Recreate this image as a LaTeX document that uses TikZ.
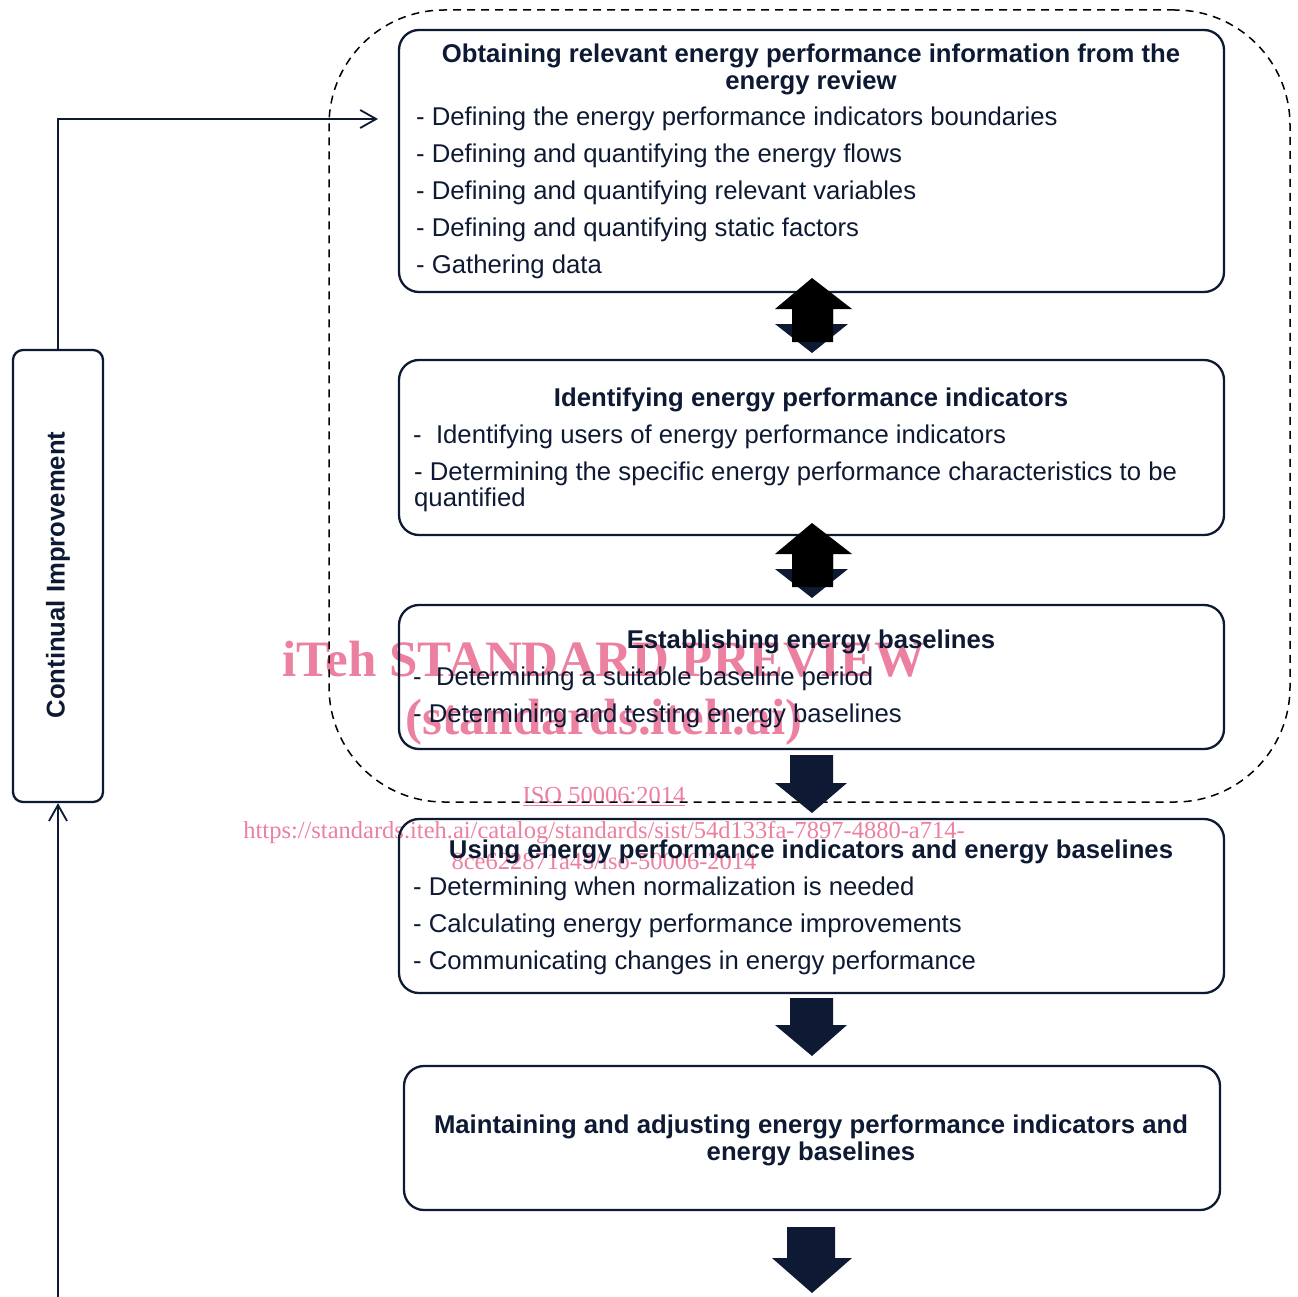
\documentclass[tikz,border=0pt]{standalone}
\usepackage{fontspec}
\setmainfont{Liberation Sans}
\newfontfamily\wmfont{Liberation Serif}
\usetikzlibrary{arrows.meta}
\definecolor{navy}{HTML}{0E1A33}
\definecolor{wmpink}{RGB}{236,128,160}
\begin{document}
\begin{tikzpicture}[x=1pt,y=-1pt,
  box/.style={draw=navy, line width=2.3pt, rounded corners=20pt, inner sep=0pt},
  grp/.style={draw=black, line width=1.5pt, dash pattern=on 8pt off 6pt, rounded corners=115pt, inner sep=0pt},
  body/.style={anchor=base west, inner sep=0pt, text=navy, font=\fontsize{25.7}{30}\selectfont},
  ttl/.style={anchor=base, inner sep=0pt, text=navy, font=\bfseries\fontsize{25.7}{30}\selectfont},
  conn/.style={draw=navy, line width=1.8pt, -{Straight Barb[length=16pt,width=18pt,line width=1.8pt]}},
  blk/.style={fill=navy},
  blkup/.style={fill=black},
  wm/.style={text=wmpink, inner sep=0pt, anchor=base, font=\wmfont\bfseries\fontsize{51}{58}\selectfont},
  wms/.style={text=wmpink, inner sep=0pt, anchor=base, font=\wmfont\fontsize{24.5}{28}\selectfont},
]
\useasboundingbox (0,0) rectangle (1298,1297);

% watermark (beneath the drawing)
\node[wm] (w1) at (604,676) {iTeh STANDARD PREVIEW};
\node[wm] (w2) at (604,734) {(standards.iteh.ai)};
\node[wms] (w3) at (604,803) {\underline{ISO 50006:2014}};
\node[wms] (w4) at (604,838) {https://standards.iteh.ai/catalog/standards/sist/54d133fa-7897-4880-a714-};
\node[wms] (w5) at (604,869) {8ce622871a45/iso-50006-2014};

% dashed group
\node[grp, minimum width=961pt, minimum height=792pt] (grp) at (809.5,406) {};

% boxes
\node[box, minimum width=825pt, minimum height=262pt] (b1) at (811.5,161) {};
\node[box, minimum width=825pt, minimum height=175pt] (b2) at (811.5,447.5) {};
\node[box, minimum width=825pt, minimum height=144pt] (b3) at (811.5,677) {};
\node[box, minimum width=825pt, minimum height=174pt] (b4) at (811.5,906) {};
\node[box, minimum width=816pt, minimum height=144pt] (b5) at (812,1138) {};
\node[box, rounded corners=10pt, minimum width=90pt, minimum height=452pt] (ci) at (58,576) {};
\node[ttl, anchor=center, rotate=90] (citxt) at (58,575) {Continual Improvement};

% box 1 text
\node[ttl] (t1a) at (811,63) {Obtaining relevant energy performance information from the};
\node[ttl] (t1b) at (811,90) {energy review};
\node[body] (l1a) at (416,126) {- Defining the energy performance indicators boundaries};
\node[body] (l1b) at (416,163) {- Defining and quantifying the energy flows};
\node[body] (l1c) at (416,200) {- Defining and quantifying relevant variables};
\node[body] (l1d) at (416,237) {- Defining and quantifying static factors};
\node[body] (l1e) at (416,274) {- Gathering data};

% box 2 text
\node[ttl] (t2) at (811,406) {Identifying energy performance indicators};
\node[body] (l2a) at (413,443) {- \ Identifying users of energy performance indicators};
\node[body] (l2b) at (414,480) {- Determining the specific energy performance characteristics to be};
\node[body] (l2c) at (414,506) {quantified};

% box 3 text
\node[ttl] (t3) at (811,648) {Establishing energy baselines};
\node[body] (l3a) at (413,685) {- \ Determining a suitable baseline period};
\node[body] (l3b) at (413,722) {- Determining and testing energy baselines};

% box 4 text
\node[ttl] (t4) at (811,858) {Using energy performance indicators and energy baselines};
\node[body] (l4a) at (413,895) {- Determining when normalization is needed};
\node[body] (l4b) at (413,932) {- Calculating energy performance improvements};
\node[body] (l4c) at (413,969) {- Communicating changes in energy performance};

% box 5 text
\node[ttl] (t5a) at (811,1133) {Maintaining and adjusting energy performance indicators and};
\node[ttl] (t5b) at (811,1160) {energy baselines};

% block arrows
% 1-2 double
\fill[blk] (792,305) -- (833,305) -- (833,324) -- (848,324) -- (812,353) -- (775,324) -- (792,324) -- cycle;
\fill[blkup] (792,342) -- (792,309) -- (775,309) -- (812,278) -- (852,309) -- (833,309) -- (833,342) -- cycle;
% 2-3 double
\fill[blk] (792,550) -- (833,550) -- (833,569) -- (848,569) -- (812,598) -- (775,569) -- (792,569) -- cycle;
\fill[blkup] (792,587) -- (792,554) -- (775,554) -- (812,523) -- (852,554) -- (833,554) -- (833,587) -- cycle;
% 3-4
\fill[blk] (790,755) -- (833,755) -- (833,783) -- (847,783) -- (812,813) -- (775,783) -- (790,783) -- cycle;
% 4-5
\fill[blk] (790,998) -- (833,998) -- (833,1025) -- (847,1025) -- (812,1056) -- (775,1025) -- (790,1025) -- cycle;
% 5-out
\fill[blk] (787,1227) -- (835,1227) -- (835,1258) -- (852,1258) -- (812,1293) -- (772,1258) -- (787,1258) -- cycle;

% connectors
\coordinate (fbend) at (378,119);
\coordinate (fbot) at (58,1297);
\draw[conn] (ci.north) |- (fbend);
\draw[conn] (fbot) -- (ci.south);
\end{tikzpicture}
\end{document}
